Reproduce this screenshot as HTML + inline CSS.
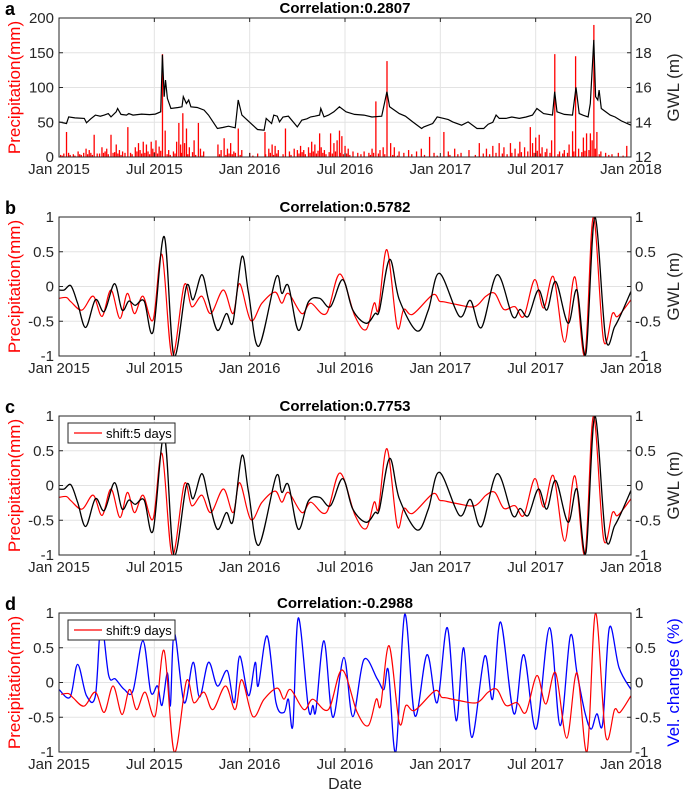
<!DOCTYPE html>
<html><head><meta charset="utf-8">
<style>
html,body{margin:0;padding:0;background:#fff;}
svg text{font-family:"Liberation Sans",Arial,sans-serif;}
</style></head>
<body>
<svg id="fig" width="685" height="795" viewBox="0 0 685 795" xmlns="http://www.w3.org/2000/svg"></svg>
<script>
// ---------- data (x in months since Jan 2015) ----------
const xTickLabels = ["Jan 2015","Jul 2015","Jan 2016","Jul 2016","Jan 2017","Jul 2017","Jan 2018"];
const xTickMonths = [0,6,12,18,24,30,36];
const precipTicksA = [0,50,100,150,200];
const gwlTicksA = [12,14,16,18,20];
const normTicks = [-1,-0.5,0,0.5,1];
const normTickLabels = ["-1","-0.5","0","0.5","1"];

const precipMonth = [0.1,0.3,0.47,0.6,0.9,1.2,1.4,1.7,1.9,2.0,2.21,2.4,2.7,2.9,3.0,3.27,3.4,3.6,3.8,4.0,4.33,4.5,4.8,5.0,5.1,5.3,5.5,5.6,5.8,5.9,6.1,6.3,6.51,6.68,6.9,7.2,7.4,7.54,7.65,7.79,7.9,8.02,8.2,8.5,8.77,8.9,9.1,10.0,10.2,10.39,10.6,10.8,11.0,11.28,11.5,12.0,12.5,12.96,13.2,13.41,13.6,13.8,14.25,14.5,14.8,15.0,15.2,15.4,15.7,15.9,16.1,16.4,16.5,16.7,17.09,17.3,17.5,17.65,17.8,18.0,18.2,18.5,18.8,19.2,19.5,19.7,19.94,20.2,20.4,20.64,20.87,21.1,21.4,21.7,22.0,22.5,22.8,23.32,23.6,24.22,24.5,24.9,25.3,25.8,26.45,26.9,27.3,27.7,28.0,28.41,28.7,29.0,29.3,29.66,29.8,30.0,30.22,30.4,30.7,31.0,31.2,31.5,31.8,32.1,32.32,32.51,32.7,33.0,33.2,33.44,33.55,33.66,33.85,34.1,34.4,34.8,35.2,35.73];
const precipValue = [3,5,36,6,4,8,3,12,10,6,32,5,14,8,12,32,6,18,10,8,43,6,14,20,10,22,18,8,22,12,24,15,148,38,10,8,22,49,18,63,20,41,14,24,49,12,8,18,10,27,12,20,8,41,10,6,5,36,12,18,16,10,41,8,12,10,16,10,14,22,18,34,14,10,34,20,24,38,30,16,12,8,6,8,6,12,80,10,14,138,20,14,8,6,10,8,12,29,6,36,8,12,6,10,20,12,16,20,14,20,12,22,14,43,20,28,32,14,12,24,148,8,10,18,37,145,12,28,34,34,24,190,36,8,6,4,6,16];
// extra small daily rain events
const precipMonth2 = [0.2,0.7,1.0,1.3,1.55,1.8,2.1,2.55,2.8,3.1,3.5,3.7,3.9,4.15,4.6,4.9,5.2,5.4,5.7,6.0,6.2,6.4,6.8,7.0,7.3,7.7,8.1,8.4,8.6,9.0,10.1,10.5,10.7,10.9,11.1,11.4,12.2,13.0,13.3,13.5,13.7,14.1,14.6,15.1,15.3,15.5,15.8,16.0,16.2,16.3,16.6,16.8,17.0,17.2,17.4,17.7,17.9,18.1,18.3,19.0,19.6,19.8,20.1,20.5,21.0,21.3,22.2,23.0,23.8,24.6,25.1,26.2,26.7,27.1,27.5,27.9,28.2,28.5,28.9,29.1,29.5,29.9,30.1,30.3,30.6,30.9,31.4,31.7,32.0,32.4,32.9,33.1,33.35,33.75,34.0,34.6,35.5];
const precipValue2 = [2,3,2,4,6,4,3,5,6,4,7,5,3,6,4,8,5,6,4,7,5,9,4,3,5,6,4,7,3,2,4,3,5,4,6,3,2,4,6,3,5,4,3,5,7,4,6,8,5,9,6,4,7,5,8,6,4,5,3,4,3,6,5,4,3,2,4,3,2,3,4,3,5,4,6,5,4,6,5,7,8,6,9,5,7,6,4,5,6,8,7,9,10,12,4,3,2];

const gwlMonth = [0,0.47,0.61,1.0,1.59,1.73,2.0,2.29,2.6,2.85,3.1,3.27,3.60,3.69,3.9,4.25,4.39,4.66,5.2,5.7,6.06,6.40,6.51,6.62,6.70,6.82,7.04,7.5,7.74,7.82,8.02,8.16,8.30,8.7,9.13,9.41,9.97,10.3,10.67,11.09,11.28,11.51,12.0,12.49,12.91,13.04,13.38,13.52,13.74,13.88,14.1,14.44,15.00,15.28,15.6,15.84,16.1,16.40,16.48,16.68,16.96,17.3,17.65,18.07,18.6,19.19,19.7,20.31,20.64,20.81,21.42,21.8,22.26,22.82,22.96,23.52,23.80,24.22,24.5,24.78,25.34,25.75,26.31,26.73,27.01,27.3,27.51,27.71,28.13,28.5,28.97,29.4,29.80,30.08,30.50,31.06,31.20,31.34,31.8,32.32,32.54,32.74,33.0,33.30,33.44,33.66,33.77,33.91,33.99,34.13,34.69,35.0,35.39,36];
const gwlValue = [14.02,13.93,14.31,14.25,14.22,13.97,14.2,14.41,14.35,14.41,14.5,14.31,14.60,14.79,14.45,14.41,14.50,14.41,14.47,14.44,14.47,14.60,17.88,15.47,16.43,15.37,14.79,14.85,14.89,15.47,15.08,15.28,14.89,14.85,14.70,14.41,13.64,13.70,13.77,13.68,15.28,14.41,14.0,13.58,13.54,14.22,13.93,14.41,14.35,14.02,14.3,14.35,13.73,14.12,14.2,14.31,14.35,14.41,14.79,14.31,14.41,14.6,14.89,14.60,14.45,14.41,14.3,14.35,15.76,14.89,14.50,14.35,14.02,13.64,13.73,13.93,14.31,14.22,14.15,14.02,13.83,14.02,13.64,13.64,13.89,14.0,14.41,14.22,14.22,14.3,14.22,14.3,14.41,14.79,14.50,14.41,15.76,14.60,14.45,14.41,16.01,14.50,14.4,14.31,15.08,18.74,15.47,15.28,15.85,14.79,14.41,14.3,14.08,13.83];

const bRedMonth = [0,0.47,0.75,1.45,2.15,2.71,3.27,3.83,4.30,4.75,5.28,5.92,6.48,7.12,7.88,8.35,8.99,9.55,10.34,10.95,11.37,12.07,12.77,13.60,14.02,14.44,15.28,15.84,16.82,17.68,18.63,19.33,19.83,20.11,20.64,21.28,21.70,22.26,23.52,23.94,24.22,25.06,26.17,26.87,27.43,27.99,28.69,29.25,29.94,30.50,31.12,31.82,32.46,33.10,33.63,34.27,34.83,35.17,36];
const bRedValue = [-0.17,-0.16,-0.22,-0.34,-0.14,-0.43,-0.05,-0.46,-0.10,-0.39,-0.14,-0.48,0.46,-1.0,0.02,-0.29,-0.14,-0.39,-0.05,-0.39,0.04,-0.49,-0.24,-0.08,-0.24,-0.10,-0.39,-0.24,-0.39,0.18,-0.43,-0.62,-0.24,-0.33,0.53,-0.58,-0.33,-0.40,-0.12,-0.21,-0.22,-0.26,-0.29,-0.14,-0.10,-0.33,-0.29,-0.43,0.10,-0.31,0.14,-0.80,0.14,-0.99,1.0,-0.77,-0.39,-0.43,-0.19];
const bBlackMonth = [0,0.33,0.75,1.17,1.68,2.29,2.85,3.49,3.97,4.39,4.80,5.36,5.92,6.62,7.23,8.02,8.44,8.99,9.41,9.97,10.53,10.95,11.51,11.93,12.57,13.66,14.02,14.44,15.06,15.70,16.40,17.09,17.85,18.49,19.33,19.89,20.17,20.81,21.42,22.54,23.24,23.94,25.20,25.89,26.59,27.57,28.55,29.02,29.53,30.17,30.70,31.26,32.04,32.60,33.16,33.72,34.41,34.97,35.39,36];
const bBlackValue = [-0.05,-0.05,0.01,-0.24,-0.59,-0.19,-0.36,0.04,-0.34,-0.21,-0.27,-0.21,-0.65,0.72,-1.0,0.0,-0.19,0.17,-0.19,-0.63,-0.39,-0.51,0.43,-0.10,-0.86,0.13,-0.10,0.01,-0.63,-0.22,-0.17,-0.29,0.10,-0.34,-0.53,-0.39,-0.34,0.39,-0.19,-0.64,-0.34,0.19,-0.43,-0.20,-0.59,0.17,-0.43,-0.33,-0.43,-0.05,-0.34,0.07,-0.53,-0.05,-0.97,1.0,-0.75,-0.58,-0.39,-0.07];

const cShiftDays = 5;
const dShiftDays = 9;

const dBlueMonth = [0,0.70,1.17,1.73,2.29,2.65,3.13,3.55,4.11,4.66,5.28,5.78,6.20,6.48,6.82,7.01,7.26,7.88,8.44,8.85,9.41,9.97,10.59,11.03,11.37,11.93,12.35,12.54,13.10,13.66,14.16,14.44,14.72,15.06,15.70,15.98,16.17,16.68,17.23,17.93,18.49,19.19,20.03,20.45,20.73,21.20,21.76,22.40,23.16,23.80,24.44,25.00,25.47,25.98,26.79,27.29,27.79,28.63,29.25,30.03,30.87,31.54,32.18,32.60,33.10,33.49,33.85,34.22,34.64,35.25,36];
const dBlueValue = [-0.10,-0.21,0.26,-0.19,-0.19,0.86,0.10,0.05,-0.10,-0.12,0.60,-0.14,-0.05,-0.33,0.14,-0.33,0.71,-0.29,0.29,-0.21,0.29,-0.05,0.17,-0.29,0.38,-0.19,0.29,-0.05,0.67,-0.29,-0.43,-0.24,-0.62,0.93,-0.38,-0.33,-0.40,0.60,-0.50,0.36,-0.49,0.33,0.05,-0.10,0.17,-1.0,0.98,-0.48,0.40,-0.29,0.79,-0.55,0.50,-0.79,0.38,-0.24,0.87,-0.45,0.40,-0.67,0.79,-0.62,0.67,0.14,-0.43,-0.67,-0.45,-0.59,0.79,0.21,-0.10];

// ---------- drawing ----------
const NS="http://www.w3.org/2000/svg";
const svg=document.getElementById('fig');
const X0=59,X1=631,H=139;
function xs(m){return X0+(m/36)*(X1-X0);}
function mk(tag,attrs,parent){const e=document.createElementNS(NS,tag);for(const k in attrs)e.setAttribute(k,attrs[k]);(parent||svg).appendChild(e);return e;}
function txt(s,attrs,parent){const e=mk('text',attrs,parent);e.textContent=s;return e;}
function smoothPath(px,py){
  let d='M'+px[0].toFixed(1)+','+py[0].toFixed(1);
  for(let i=0;i<px.length-1;i++){
    const x0=px[Math.max(i-1,0)],y0=py[Math.max(i-1,0)],x1=px[i],y1=py[i],x2=px[i+1],y2=py[i+1],x3=px[Math.min(i+2,px.length-1)],y3=py[Math.min(i+2,px.length-1)];
    const c1x=x1+(x2-x0)/6,c1y=y1+(y2-y0)/6,c2x=x2-(x3-x1)/6,c2y=y2-(y3-y1)/6;
    d+=' C'+c1x.toFixed(1)+','+c1y.toFixed(1)+' '+c2x.toFixed(1)+','+c2y.toFixed(1)+' '+x2.toFixed(1)+','+y2.toFixed(1);
  }
  return d;
}
function panel(top,opts){
  const g=mk('g',{});
  
  
  const bot=top+H;
  xTickMonths.forEach(m=>{const l=mk('line',{x1:xs(m),x2:xs(m),y1:top,y2:bot,stroke:'#e3e3e3','stroke-width':1},g);
    });
  opts.lTicks.forEach(v=>{const y=opts.ly(v);const l=mk('line',{x1:X0,x2:X1,y1:y,y2:y,stroke:'#e3e3e3','stroke-width':1},g);
    });
  const plot=mk('g',{},g);
  
  opts.draw(plot,top,bot);
  const b=mk('rect',{x:X0,y:top,width:X1-X0,height:H,fill:'none',stroke:'#262626','stroke-width':1},g);
  
  xTickMonths.forEach((m,i)=>{
    mk('line',{x1:xs(m),x2:xs(m),y1:bot,y2:bot-4,stroke:'#262626'},g);
    mk('line',{x1:xs(m),x2:xs(m),y1:top,y2:top+4,stroke:'#262626'},g);
    const t=txt(xTickLabels[i],{x:xs(m),y:bot+17,'text-anchor':'middle','font-size':'15',fill:'#262626'},g);
    
  });
  opts.lTicks.forEach((v,i)=>{const y=opts.ly(v);
    mk('line',{x1:X0,x2:X0+4,y1:y,y2:y,stroke:'#262626'},g);
    const t=txt(opts.lLabels[i],{x:X0-5,y:y+5,'text-anchor':'end','font-size':'15',fill:'#262626'},g);
    });
  opts.rTicks.forEach((v,i)=>{const y=opts.ry(v);
    mk('line',{x1:X1,x2:X1-4,y1:y,y2:y,stroke:'#262626'},g);
    const t=txt(opts.rLabels[i],{x:X1+4,y:y+5,'text-anchor':'start','font-size':'15',fill:'#262626'},g);
    });
  const ti=txt(opts.title,{x:(X0+X1)/2,y:top-5,'text-anchor':'middle','font-size':'15','font-weight':'bold',fill:'#000'},g);
  
  const le=txt(opts.letter,{x:5,y:top-3,'font-size':'18','font-weight':'bold',fill:'#000'},g);
  
  const yl=txt('Precipitation(mm)',{x:0,y:0,'text-anchor':'middle','font-size':'17',fill:'#ff0000',transform:'translate(20,'+(top+H/2)+') rotate(-90)'},g);
  
  const yr=txt(opts.rTitle,{x:0,y:0,'text-anchor':'middle','font-size':'17',fill:opts.rColor,transform:'translate(679,'+(top+H/2)+') rotate(-90)'},g);
  
  if(opts.legend){
    const lg=mk('g',{},g);
    
    mk('rect',{x:68,y:top+7,width:107,height:20,fill:'#fff',stroke:'#262626','stroke-width':1},lg);
    mk('line',{x1:74,x2:102,y1:top+17,y2:top+17,stroke:'#ff0000','stroke-width':1.3},lg);
    const lt=txt(opts.legend,{x:106,y:top+22,'font-size':'13',fill:'#000'},lg);
    
  }
}
const tops=[18,217,416,613];
{
  const top=tops[0],bot=top+H;
  const ly=v=>bot-(v/200)*H, ry=v=>bot-((v-12)/8)*H;
  panel(top,{name:'panel-a',letter:'a',title:'Correlation:0.2807',lTicks:precipTicksA,lLabels:precipTicksA.map(String),ly,
    rTicks:gwlTicksA,rLabels:gwlTicksA.map(String),ry,rTitle:'GWL (m)',rColor:'#262626',
    draw:(g)=>{
      const drawBars=(ms,vs)=>ms.forEach((m,i)=>{const y=ly(vs[i]);
        const r=mk('rect',{x:xs(m)-0.6,y:y,width:1.3,height:bot-y,fill:'#ff0000'},g);
        
        });
      drawBars(precipMonth,precipValue);
      drawBars(precipMonth2,precipValue2);
      const pts=gwlMonth.map((m,i)=>xs(m).toFixed(1)+','+ry(gwlValue[i]).toFixed(1)).join(' ');
      const p=mk('polyline',{points:pts,fill:'none',stroke:'#000','stroke-width':1.2},g);
      
    }});
}
function normPanel(idx,letter,title,redMonth,redValue,other,otherColor,rTitle,rColor,legend,otherName){
  const top=tops[idx],bot=top+H;
  const ny=v=>bot-((v+1)/2)*H;
  panel(top,{name:'panel-'+letter,letter,title,lTicks:normTicks,lLabels:normTickLabels,ly:ny,rTicks:normTicks,rLabels:normTickLabels,ry:ny,
    rTitle,rColor,legend,
    draw:(g)=>{
      const cp=mk('clipPath',{id:'clip'+letter},g);mk('rect',{x:X0,y:top,width:X1-X0,height:H},cp);
      const gg=mk('g',{'clip-path':'url(#clip'+letter+')'},g);
      const o=mk('path',{d:smoothPath(other[0].map(xs),other[1].map(ny)),fill:'none',stroke:otherColor,'stroke-width':1.3},gg);
      
      const r=mk('path',{d:smoothPath(redMonth.map(xs),redValue.map(ny)),fill:'none',stroke:'#ff0000','stroke-width':1.2},gg);
      
      if(idx!==3){ gg.appendChild(o); }
    }});
}
normPanel(1,'b','Correlation:0.5782',bRedMonth,bRedValue,[bBlackMonth,bBlackValue],'#000','GWL (m)','#262626',null,'gwl-line');
const cRedMonth=bRedMonth.map(m=>Math.min(36,Math.max(0,m+cShiftDays/30.4-0.16)));
normPanel(2,'c','Correlation:0.7753',cRedMonth,bRedValue,[bBlackMonth,bBlackValue],'#000','GWL (m)','#262626','shift:5 days','gwl-line');
const dRedMonth=bRedMonth.map(m=>Math.min(36,Math.max(0,m+dShiftDays/30.4-0.16)));
normPanel(3,'d','Correlation:-0.2988',dRedMonth,bRedValue,[dBlueMonth,dBlueValue],'#0000ff','Vel. changes (%)','#0000ff','shift:9 days','velocity-line');
const xl=txt('Date',{x:(X0+X1)/2,y:789,'text-anchor':'middle','font-size':'16',fill:'#262626'});


</script>
</body></html>
